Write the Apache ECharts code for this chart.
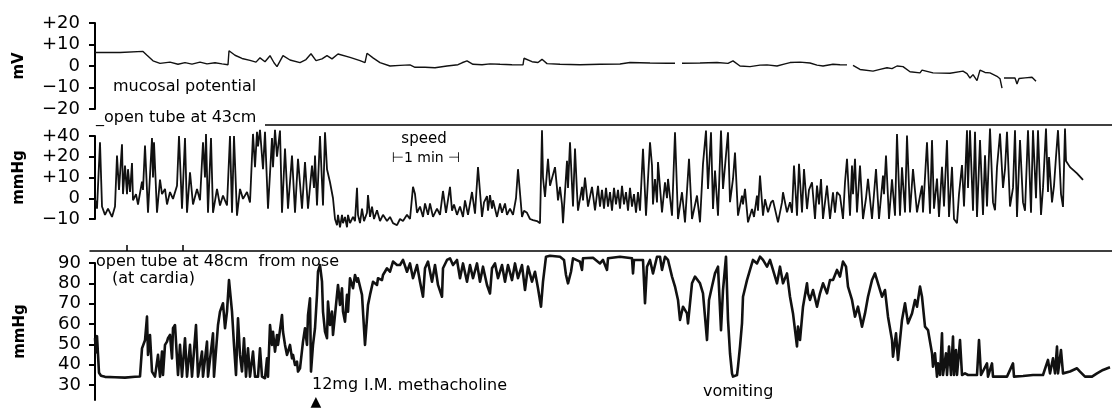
<!DOCTYPE html>
<html>
<head>
<meta charset="utf-8">
<script src="https://cdn.jsdelivr.net/npm/echarts@6/dist/echarts.min.js"></script>
<style>
html,body{margin:0;padding:0;background:#fff;}
#chart{width:1112px;height:411px;}
</style>
</head>
<body>
<div id="chart"></div>
<script>
// time axis: seconds from start of record (speed bar = 1 min)
var mvTicks = [-20, -10, 0, 10, 20];
var mvTickLabels = ['−20', '−10', '0', '+10', '+20'];
var p43Ticks = [-10, 0, 10, 20, 30];
var p43TickLabels = ['−10', '0', '+10', '+20', '+40'];
var p48Ticks = [30, 40, 50, 60, 70, 80, 90];
var timeMarks = [32, 88];

var mucosalPotential = [[0,6.3],[25,6.3],[48,6.8],[52,5],[58,2.4],[65,1.2],[75,1.8],[83,0.8],[90,1.6],[97,0.9],[105,1.8],[112,1.0],[120,1.5],[127,1.0],[133,0.6],[134,7.1],[140,5.0],[147,3.5],[155,2.6],[161,1.8],[165,3.8],[170,2.0],[175,4.8],[179,1.5],[182,-0.3],[188,4.8],[195,2.8],[205,1.6],[211,3],[216,5.7],[221,2.5],[227,3.3],[232,4.8],[237,3.3],[243,5.6],[255,4.0],[265,2.5],[270,1.6],[272,5.9],[278,3.8],[285,1.6],[295,0],[305,0.3],[315,0.5],[320,-0.6],[330,-0.6],[340,-0.8],[352,0],[363,0.6],[367,1.5],[372,2.4],[378,0.8],[387,0.6],[395,1.0],[405,0.8],[417,0.6],[428,0.5],[429,3.6],[437,2.0],[443,1.6],[447,3.1],[452,1.1],[465,0.8],[485,0.6],[505,0.8],[525,0.9],[535,1.6],[555,1.4],[572,1.3],[580,1.3],[583,'-'],[587,1.3],[605,1.4],[622,1.6],[633,1.2],[638,2.4],[645,0],[655,-0.3],[665,0.4],[672,0.5],[682,0],[690,1.0],[695,1.6],[705,1.8],[715,1.4],[722,0.4],[728,0],[738,0.8],[745,0.6],[752,0.5],[755,'-'],[758,0.3],[765,-1.6],[778,-2.4],[785,-1.6],[792,-0.8],[797,-1.2],[802,0],[808,-0.3],[815,-2.7],[825,-3.2],[827,-1.9],[838,-3.2],[855,-3.4],[868,-2.4],[872,-3.5],[875,-5.6],[878,-4],[882,-6.8],[885,-1.9],[890,-3],[895,-3.2],[902,-4.8],[905,-5.9],[907,-10.3],[908,'-'],[909,-5.6],[915,-5.5],[920,-5.6],[922,-8.4],[924,-5.8],[930,-5.5],[937,-5.2],[941,-7.1]];

var pressure43 = [[0,-0.3],[2,-5],[5,27],[7,-4],[10,-8],[13,-5],[17,-9],[20,-4],[22,20.6],[24,4],[27,26],[28,2],[30,15.8],[32,2],[33,14],[35,3],[37,17],[38,-1],[41,2],[43,-3],[47,8],[48,4],[50,25.4],[53,-7],[57,29],[58,10],[59,27],[62,-7],[65,9],[67,2],[70,4.5],[72,-3],[75,3],[78,-0.3],[82,6],[84,30],[87,-5],[90,29],[92,-7],[95,12.5],[98,-3],[102,4.5],[105,-1],[108,27],[110,10],[111,31],[113,-7],[116,29],[118,-7],[122,4.5],[125,-3.5],[128,1.3],[132,-3.5],[135,30],[137,-7],[139,30],[142,-8.4],[145,4.5],[148,-0.3],[152,3],[155,-2],[158,31],[160,15],[162,32],[163,25],[165,33],[168,14],[170,32],[173,-5],[177,29],[178,15],[180,33],[182,20],[185,32.6],[187,-7],[190,24],[193,-5],[197,20.6],[200,-7],[203,19],[207,-5],[210,17.4],[213,-5],[217,15.8],[219,5],[220,20.6],[222,-3.5],[225,30],[228,-3.5],[230,31.8],[232,14],[235,7.7],[238,0],[240,-10],
[242,-13],[243,-8],[245,-14],[247,-8],[248,-12],[250,-9],[252,-14],[253,-8],[255,-12],[258,-9],[260,-11],[262,5],[263,-8],[265,-12],[267,-5],[269,-11],[272,-7],[273,1.5],[275,-9],[277,-4],[279,-10],[282,-5.8],[285,-11],[288,-8],[292,-11],[295,-9],[298,-12],[302,-13],[305,-10],[308,-11],[312,-8],[315,-10],[318,5.5],[320,2],[322,-7],[325,-4],[328,-9],[330,-2.5],[333,-8],[335,-2.5],[338,-9],[342,-5],[345,-8],[348,3.5],[351,-7],[355,5.5],[357,-6],[359,-3],[362,-8],[365,-4],[368,-9],[370,-1],[373,-8],[377,3],[380,-7.4],[383,15],[387,-9],[389,-2],[392,1],[393,-6],[395,1.5],[397,-5],[398,-1],[402,-9],[405,-2.5],[407,-7],[410,-2.5],[412,-8],[415,-5],[418,-8],[421,0],[423,14],[427,-9],[429,-6],[432,-7],[435,-10],[438,-10.5],[442,-11],[445,-12],[447,32.8],[448,10],[450,0.6],[453,19],[455,6],[457,5.5],[460,15],[462,5],[463,-1],[465,5.5],[467,-3],[468,-12],[472,18],[473,5],[475,27],[478,-4],[480,24],[482,3],[483,-6],[487,5.5],[488,-1],[490,10],[493,-4],[497,5.5],[500,-5.8],[503,6],
[505,-4],[507,4],[509,-5],[511,5],[513,-4],[515,3],[517,-6],[519,5],[521,-3],[523,4],[525,-5],[527,6],[529,-3],[531,3],[533,-6],[535,5],[537,-4],[539,2],[541,-7],[543,3],[545,-6],[548,23.8],[551,-8.4],[555,27],
[557,15.8],[558,-3],[560,9.3],[562,-2],[563,17.4],[567,-6.8],[570,7.7],[572,0],[573,9.3],[577,-8.4],[580,31.8],[583,-10],[587,2.9],[590,-11.6],[594,19],[597,-10],[602,1.3],[605,-11.6],[608,16.6],[611,32.6],[613,4.5],[616,31.8],[618,-5.2],[620,13.3],[623,-8.4],[626,32.6],[628,4.5],[633,31.8],[635,-1.9],[638,9.3],[640,22],[643,-8.4],[647,1.3],[648,-3],[650,4.5],[653,-11.6],[657,-5.2],[659,-9],[662,1.3],[663,-6],[665,10.9],[668,-8.4],[670,-0.5],[673,-6.8],[676,-2],[678,-1],[683,-11.6],[687,-2],[688,2.9],[692,-6.8],[695,-1.9],[697,-7],[699,15.8],[702,-8.4],[704,16.6],[707,-6.8],[709,14.1],[712,-5.2],[714,4],[717,7.7],[720,-10],[722,6.1],[724,-3],[726,9.3],[728,-10],[732,6.1],[735,-10],[738,2.9],[740,-7],[742,3],[745,1.3],[748,-10],[750,7.7],[752,19],[755,-8.4],[757,15.8],[758,2],[760,19],[762,-6.8],[765,15.8],[768,-10],[771,0],[773,9.3],[777,-10],[781,14.1],[784,-10],[788,10.9],[789,2],[791,20.6],[794,-10],[797,9.1],[800,-8.4],[802,31],[805,-8.4],[807,14.9],[810,-6.8],[812,30.2],[815,-6.8],[818,14.1],[822,-6.8],[825,1],[827,6.1],[828,-6.8],[832,27],
[835,-7.4],[837,28],[839,-5],[842,9.5],[844,-9],[847,15.1],[849,-4],[852,28],[854,-9],[857,15.1],[859,-10],[862,-12],[864,2],[867,16],[869,-4],[872,32.8],[873,5],[875,32.8],[878,-6],[880,32],[882,-9],[885,28],[888,-8],[890,20.7],[892,-4],[895,33.6],[898,-2],[900,-5.8],[902,15],[905,31.2],[908,5],[910,14],[912,32],[915,-4],[918,5],[920,32.8],[922,-9],[925,28],[928,-2],[930,-6],[933,32.8],[936,-7],[938,32.8],[941,0],[943,32.8],[946,-8],[948,5],[951,33.6],[953,3],[954,19.9],[957,-2],[959,6],[961,20],[963,32.8],[966,2],[968,-4.2],[970,33.6],[971,18],[975,15],[982,12],[988,8.9]];

var pressure48 = [[0,53],[1,46],[2,54],[4,36],[6,34.5],[10,34],[20,33.8],[30,33.6],[40,34],[45,34.2],
[47,48],[50,52],[52,63.6],[53,44.8],[55,54.6],[57,36.6],[60,34.1],[63,44.8],[65,34.1],[67,46.4],[68,34.9],[70,49.7],[72,51.3],[73,53],[75,54.6],[77,43.1],[78,57.9],[80,59.5],[82,58.7],[83,34.9],[85,49.7],[87,34.1],[90,53],[92,34.1],[95,49.7],[97,34.1],[101,59.5],[103,34.1],[107,46.4],[108,34.1],[112,51.3],[113,34.1],[118,55.4],[119,34.1],[123,59.5],[125,66.1],[128,70.2],[130,57.9],[132,66.1],[134,81.6],[137,66.1],[139,49.7],[141,34.9],[143,62.8],[145,44.8],[147,36.6],[149,53],[151,34.1],[153,48],[155,34.1],[158,46.4],[160,34.1],[163,34.1],[165,48],[167,34.1],[170,33.3],[172,43.1],[173,34.1],[175,59.5],[177,49.7],[178,56.2],[180,46.4],[182,54.6],[183,49.7],[187,64.4],[188,56.2],[190,49.7],[192,44.8],[193,46.4],[195,49.7],[197,43.1],[198,44.8],[200,39.8],[202,41.5],[203,36.6],[205,38.2],[208,51.3],[210,57.9],[212,49.7],[213,64.4],[215,72.6],[216,36.6],[218,49.7],[220,57.9],[222,74.3],[223,85.7],[225,89],[227,80.8],[228,66.1],[230,56.2],[232,53],[233,71],[235,59.5],[237,66.1],[238,54.6],[242,74.3],[243,79.2],[245,69.4],[247,77.6],[248,66.1],[250,61.1],[252,74.3],[253,66.1],[255,82.5],[258,77.6],[260,84.1],[262,80.8],[263,82.5],
[265,82.5],[267,74.3],[268,66.1],[270,49.7],[272,49.7],[273,69.4],[275,74.3],[278,80.8],[282,79.2],[283,82.5],[287,81.6],[288,84.1],[292,87.4],[295,85.7],[298,90.7],[302,89],[305,89],[308,91.5],[312,85.7],[315,89.8],[318,82.5],[322,89],[325,80.8],[328,73.4],[330,87.4],[333,90.7],[337,80.8],[340,89],[343,79.2],[347,73.4],[348,87.4],[352,91.5],[355,92.3],[358,89],[362,91.5],[365,82.5],[368,89.8],[372,80.8],[375,89],[378,82.5],[382,89.8],[385,80.8],[388,88.2],[392,79.2],[395,75],[397,87.4],[400,89.8],[403,82.5],[407,89],[410,80.8],[413,89],[417,81.6],[420,89.8],[423,82.5],[427,89],[430,76.7],[433,88.2],[437,80.8],[440,85.7],[443,77.6],[446,68.5],[448,80.8],[451,93.1],[455,93.6],[465,93.1],[469,91.5],[471,84.1],[473,80],[476,85.7],[478,92.3],[485,90.7],[487,86.6],[488,92.3],[498,92.6],[505,89.8],
[508,91.5],[512,86.6],[513,92.3],[525,93.1],[537,92.3],[538,84.9],[539,91.5],[548,91.5],[550,70.2],[552,88.2],[555,91.5],[558,84.9],[562,93.1],[565,93.1],[567,86.6],[570,93.1],[573,91.5],[577,83.3],[580,78.4],[583,71.8],[585,62],[588,68.5],[592,65.2],[593,60.3],[597,80],[600,83.3],[605,80],[608,75.1],[612,52.1],[614,71.8],[617,78.4],[620,84.9],[623,88.2],[626,57],[628,76.7],[631,93.1],[633,62],[635,45.6],[637,35.7],[638,34.1],[642,34.9],[643,39],[645,48.9],[647,60.3],[648,73.4],[652,81.6],[655,86.6],[658,91.5],[662,89.8],[665,93.1],[668,91.5],[672,88.2],[675,91.5],[678,86.6],[682,80],[685,88.2],[688,80],[692,84.9],[695,73.4],[698,65.2],[702,48.9],[703,58.7],[705,52.1],[708,68.5],[712,80],[713,75.1],[715,71.8],[718,76.7],[722,68.5],[725,75.1],[728,80],[732,75.1],[735,81.6],[738,81.6],[742,86.6],[745,83.3],[748,90.7],[751,88.2],[753,78.4],[757,71.8],[760,63.6],[763,68.5],[767,58.7],[770,65.2],[773,73.4],[777,81.6],[780,84.9],[783,80],[787,73.4],[790,76.7],[793,63.6],[797,52.1],[798,43.9],[801,55.4],[803,42.3],[807,62],[810,70.2],[813,60.3],[817,65.2],[820,71.8],[822,68.5],[825,78.4],[827,73.4],[830,58.7],[833,57],[837,45.6],[838,39],[840,45.6],[842,34.1],[843,40.6],[845,34.9],[847,55.4],[848,34.9],[851,45.6],[852,34.9],[854,48.9],[856,34.9],[858,53.8],[859,34.9],[861,47.2],[862,34.9],[865,52.1],[867,34.9],[870,35.7],[873,34.9],[877,34.9],[878,34.1],[882,34.9],[884,52.1],[886,34.9],[888,34.1],[892,40.6],[893,34.1],[897,40.6],[898,34.1],[902,34.1],[912,34.1],[918,40.6],[919,34.1],[928,34.4],[938,34.9],[948,34.9],[953,42.3],[955,35.7],[958,43.1],[960,35.7],[962,48.9],[963,35.7],[966,47.2],[968,35.7],[970,36.6],[975,36.6],[982,38.2],[985,36.6],[990,34.1],[997,34.1],[1002,35.7],[1008,37.4],[1015,38.7]];

var FONT = 'DejaVu Sans';
var INK = '#111';

function yAx(grid, min, max, ticks, labelFn, name, gap) {
  return {
    type: 'value', gridIndex: grid, min: min, max: max,
    name: name, nameLocation: 'middle', nameRotate: 90, nameGap: gap,
    nameTextStyle: {fontFamily: FONT, fontSize: 15, fontWeight: 'bold', color: '#000'},
    axisLine: {show: true, lineStyle: {color: '#000', width: 2}},
    axisTick: {show: true, length: 6, customValues: ticks, lineStyle: {color: '#000', width: 2}},
    axisLabel: {show: true, customValues: ticks, margin: 9, fontFamily: FONT, fontSize: 18, color: '#000', formatter: labelFn},
    splitLine: {show: false}
  };
}

var chart = echarts.init(document.getElementById('chart'), null, {renderer: 'canvas'});
chart.setOption({
  animation: false,
  backgroundColor: '#fff',
  grid: [
    {left: 89, right: 0, top: 23, height: 86},
    {left: 89, right: 0, top: 136, height: 83},
    {left: 90, right: 0, top: 263, height: 137}
  ],
  xAxis: [
    {type: 'value', gridIndex: 0, min: -6, max: 1017, show: false},
    {type: 'value', gridIndex: 1, min: -6, max: 1017, show: false},
    {type: 'value', gridIndex: 2, min: -5, max: 1017, position: 'top', offset: 12,
     axisLine: {show: true, lineStyle: {color: '#000', width: 1.5}},
     axisTick: {show: true, inside: false, length: 6, customValues: timeMarks, lineStyle: {color: '#000', width: 1.5}},
     axisLabel: {show: false}, splitLine: {show: false}}
  ],
  yAxis: [
    yAx(0, -20, 20, mvTicks, function (v) { return mvTickLabels[mvTicks.indexOf(v)]; }, 'mV', 62),
    yAx(1, -10, 30, p43Ticks, function (v) { return p43TickLabels[p43Ticks.indexOf(v)]; }, 'mmHg', 62),
    yAx(2, 22.6, 90, p48Ticks, function (v) { return String(v); }, 'mmHg', 62)
  ],
  series: [
    {type: 'line', xAxisIndex: 0, yAxisIndex: 0, data: mucosalPotential, showSymbol: false, connectNulls: false, clip: false,
     lineStyle: {color: INK, width: 1.4}},
    {type: 'line', xAxisIndex: 1, yAxisIndex: 1, data: pressure43, showSymbol: false, clip: false,
     lineStyle: {color: INK, width: 1.8}},
    {type: 'line', xAxisIndex: 2, yAxisIndex: 2, data: pressure48, showSymbol: false, clip: false,
     lineStyle: {color: INK, width: 2.6, join: 'round'}}
  ],
  graphic: [
    {type: 'text', x: 113, y: 87, style: {text: 'mucosal potential', font: '16px "DejaVu Sans"', fill: '#000', verticalAlign: 'middle'}},
    {type: 'text', x: 96, y: 118, style: {text: '_open tube at 43cm', font: '16px "DejaVu Sans"', fill: '#000', verticalAlign: 'middle'}},
    {type: 'line', shape: {x1: 265, y1: 125, x2: 1112, y2: 125}, style: {stroke: '#000', lineWidth: 1.5}},
    {type: 'text', x: 424, y: 139, style: {text: 'speed', font: '15px "DejaVu Sans"', fill: '#000', align: 'center', verticalAlign: 'middle'}},
    {type: 'text', x: 426, y: 158, style: {text: '⊢1 min ⊣', font: '14px "DejaVu Sans"', fill: '#000', align: 'center', verticalAlign: 'middle'}},
    {type: 'text', x: 96, y: 262, style: {text: 'open tube at 48cm  from nose', font: '16px "DejaVu Sans"', fill: '#000', verticalAlign: 'middle'}},
    {type: 'text', x: 112, y: 279, style: {text: '(at cardia)', font: '16px "DejaVu Sans"', fill: '#000', verticalAlign: 'middle'}},
    {type: 'text', x: 312, y: 385, style: {text: '12mg', font: '16px "DejaVu Sans"', fill: '#000', verticalAlign: 'middle'}},
    {type: 'text', x: 364, y: 386, style: {text: 'I.M. methacholine', font: '16px "DejaVu Sans"', fill: '#000', verticalAlign: 'middle'}},
    {type: 'text', x: 316, y: 402, style: {text: '▲', font: '14px "DejaVu Sans"', fill: '#000', align: 'center', verticalAlign: 'middle'}},
    {type: 'text', x: 703, y: 392, style: {text: 'vomiting', font: '16px "DejaVu Sans"', fill: '#000', verticalAlign: 'middle'}}
  ]
});
</script>
</body>
</html>
